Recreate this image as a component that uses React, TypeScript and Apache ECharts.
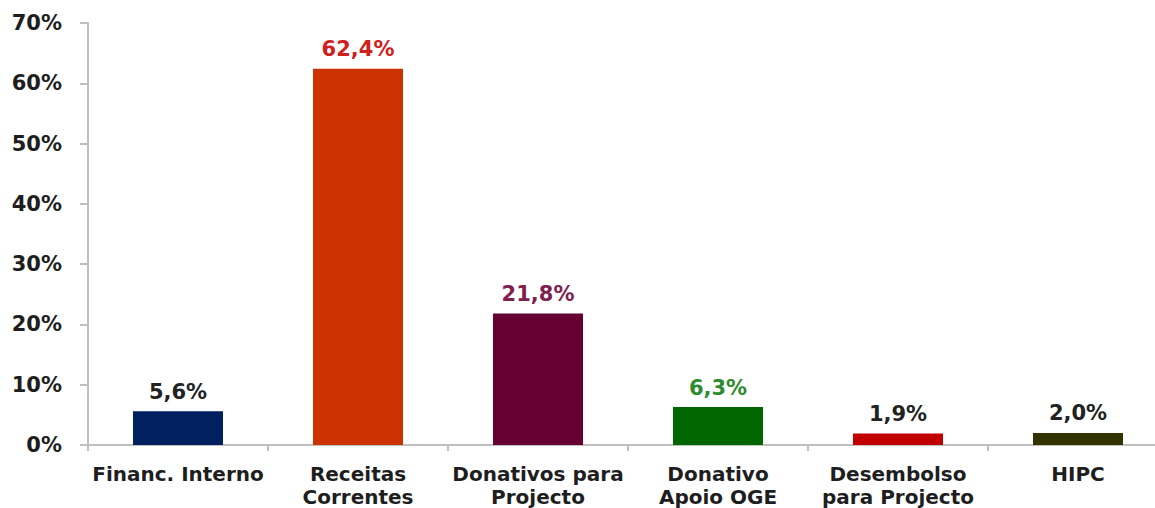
import React, { useEffect, useRef } from "react";
import * as echarts from "echarts";

const categories = [
  "Financ. Interno",
  "Receitas\nCorrentes",
  "Donativos para\nProjecto",
  "Donativo\nApoio OGE",
  "Desembolso\npara Projecto",
  "HIPC",
];
const values = [5.6, 62.4, 21.8, 6.3, 1.9, 2.0];
const barColors = ["#002060", "#CC3300", "#660033", "#006600", "#C00000", "#333300"];
const labelColors = ["#222222", "#D01F1F", "#7E2150", "#2E8B2E", "#222222", "#222222"];
const yTicks = [0, 10, 20, 30, 40, 50, 60, 70];

export default function App() {
  const ref = useRef<HTMLDivElement>(null);
  useEffect(() => {
    if (!ref.current) return;
    const chart = echarts.init(ref.current, null, { renderer: "svg" });
    const font = "'DejaVu Sans', 'Liberation Sans', sans-serif";
    chart.setOption({
      animation: false,
      backgroundColor: "#ffffff",
      grid: { left: 88, top: 23, width: 1080, height: 428, containLabel: false },
      xAxis: {
        type: "category",
        data: categories,
        boundaryGap: true,
        axisLine: { show: true, lineStyle: { color: "#BFBFBF", width: 2 } },
        axisTick: { show: true, length: 6, lineStyle: { color: "#BFBFBF", width: 2 } },
        axisLabel: {
          interval: 0,
          margin: 17,
          fontFamily: font,
          fontWeight: "bold",
          fontSize: 20,
          lineHeight: 23,
          color: "#1e1e1e",
        },
      },
      yAxis: {
        type: "value",
        min: yTicks[0],
        max: yTicks[yTicks.length - 1],
        interval: 10,
        axisLine: { show: true, lineStyle: { color: "#BFBFBF", width: 2 } },
        axisTick: { show: true, length: 8, lineStyle: { color: "#BFBFBF", width: 2 } },
        splitLine: { show: false },
        axisLabel: {
          margin: 26,
          fontFamily: font,
          fontWeight: "bold",
          fontSize: 21,
          color: "#1e1e1e",
          formatter: (v: number) => `${v}%`,
        },
      },
      series: [
        {
          type: "bar",
          barWidth: 90,
          data: values.map((v, i) => ({
            value: v,
            itemStyle: { color: barColors[i] },
            label: { color: labelColors[i] },
          })),
          label: {
            show: true,
            position: "top",
            distance: 9,
            fontFamily: font,
            fontWeight: "bold",
            fontSize: 21,
            formatter: (p: any) => `${Number(p.value).toFixed(1).replace(".", ",")}%`,
          },
        },
      ],
    });
    return () => chart.dispose();
  }, []);
  return (
    <div style={{ position: "absolute", left: 0, top: 0, width: 1155, height: 508, overflow: "hidden" }}>
      <div ref={ref} style={{ position: "absolute", left: 0, top: 0, width: 1168, height: 508 }} />
    </div>
  );
}
